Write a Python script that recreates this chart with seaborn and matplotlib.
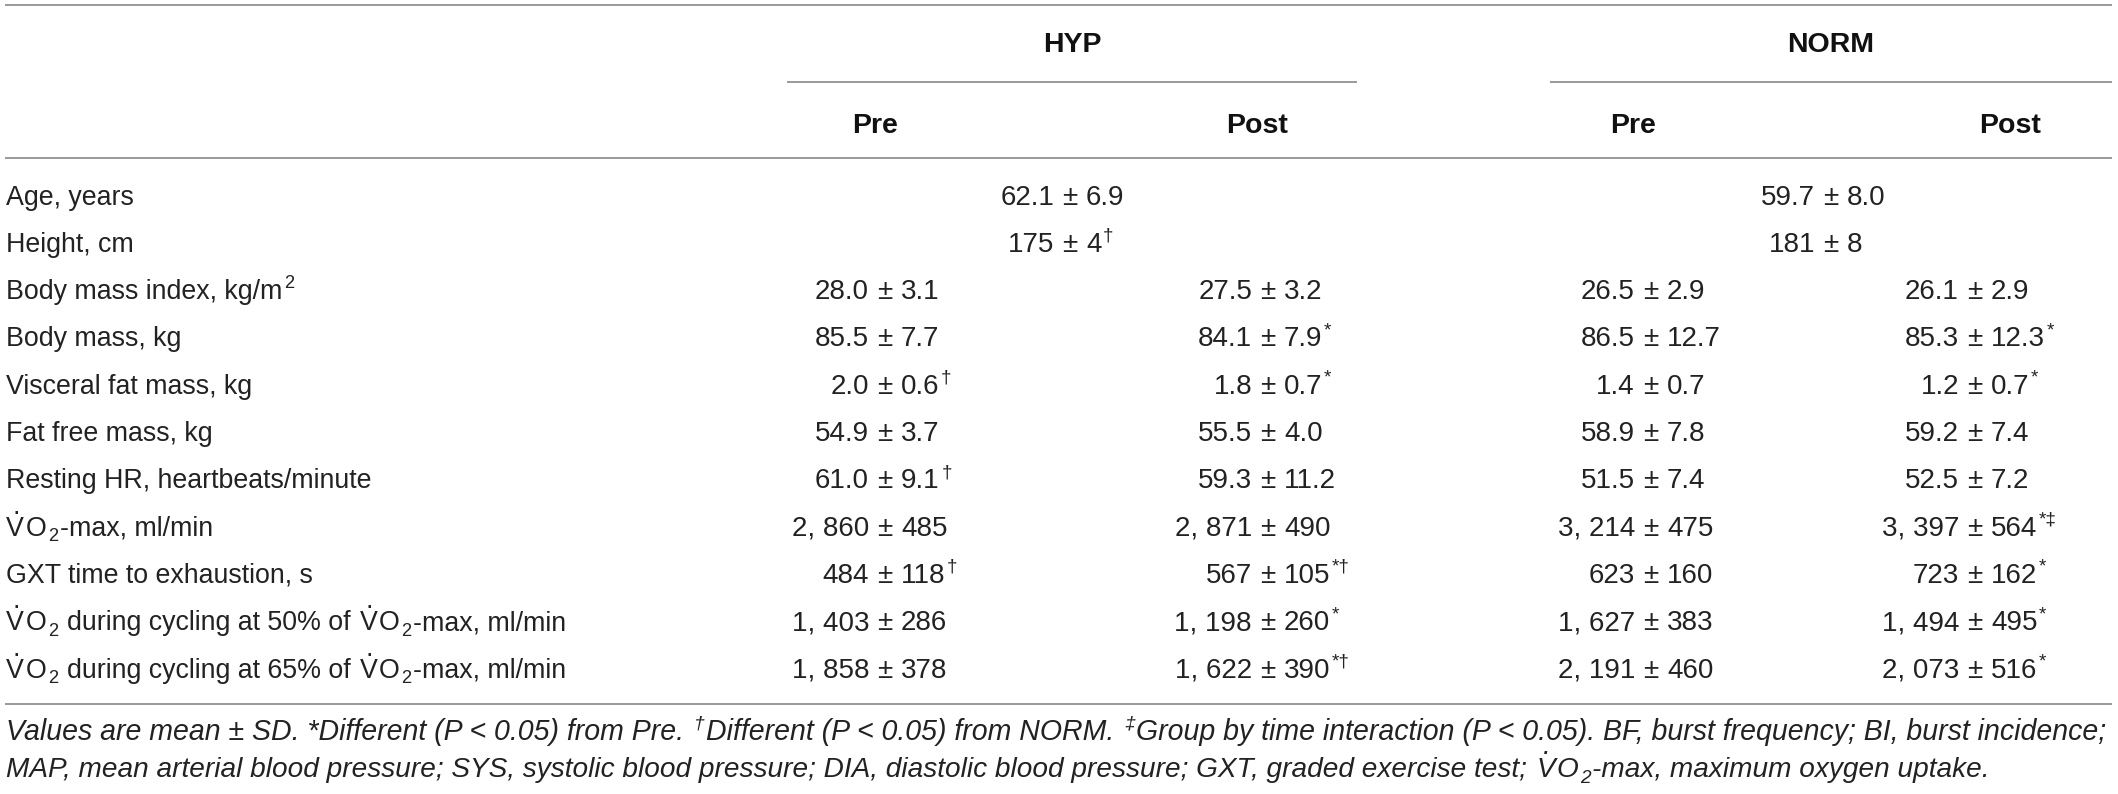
import matplotlib
matplotlib.use("Agg")
import matplotlib.pyplot as plt
import seaborn as sns

# ---------------- data ----------------
groups = ["HYP", "NORM"]
times = ["Pre", "Post"]

row_labels = [
    "Age, years",
    "Height, cm",
    "Body mass index, kg/m^{2}",
    "Body mass, kg",
    "Visceral fat mass, kg",
    "Fat free mass, kg",
    "Resting HR, heartbeats/minute",
    "V\u0307O_{2}-max, ml/min",
    "GXT time to exhaustion, s",
    "V\u0307O_{2} during cycling at 50% of V\u0307O_{2}-max, ml/min",
    "V\u0307O_{2} during cycling at 65% of V\u0307O_{2}-max, ml/min",
]

# values spanning Pre and Post (rows measured once)
hyp_span = ["62.1 ± 6.9", "175 ± 4^{†}"]
norm_span = ["59.7 ± 8.0", "181 ± 8"]

hyp_pre = [None, None, "28.0 ± 3.1", "85.5 ± 7.7", "2.0 ± 0.6^{†}", "54.9 ± 3.7",
           "61.0 ± 9.1^{†}", "2, 860 ± 485", "484 ± 118^{†}", "1, 403 ± 286", "1, 858 ± 378"]
hyp_post = [None, None, "27.5 ± 3.2", "84.1 ± 7.9^{*}", "1.8 ± 0.7^{*}", "55.5 ± 4.0",
            "59.3 ± 11.2", "2, 871 ± 490", "567 ± 105^{*†}", "1, 198 ± 260^{*}", "1, 622 ± 390^{*†}"]
norm_pre = [None, None, "26.5 ± 2.9", "86.5 ± 12.7", "1.4 ± 0.7", "58.9 ± 7.8",
            "51.5 ± 7.4", "3, 214 ± 475", "623 ± 160", "1, 627 ± 383", "2, 191 ± 460"]
norm_post = [None, None, "26.1 ± 2.9", "85.3 ± 12.3^{*}", "1.2 ± 0.7^{*}", "59.2 ± 7.4",
             "52.5 ± 7.2", "3, 397 ± 564^{*‡}", "723 ± 162^{*}", "1, 494 ± 495^{*}", "2, 073 ± 516^{*}"]

footnotes = [
    "Values are mean ± SD. *Different (P < 0.05) from Pre. ^{†}Different (P < 0.05) from NORM. "
    "^{‡}Group by time interaction (P < 0.05). BF, burst frequency; BI, burst incidence;",
    "MAP, mean arterial blood pressure; SYS, systolic blood pressure; DIA, diastolic blood pressure; "
    "GXT, graded exercise test; V\u0307O_{2}-max, maximum oxygen uptake.",
]

# ---------------- layout ----------------
W, H = 2118, 794
sns.set_theme(style="white")
plt.rcParams["font.family"] = ["Liberation Sans", "DejaVu Sans"]

fig = plt.figure(figsize=(W / 100, H / 100), dpi=100)
ax = fig.add_axes([0, 0, 1, 1])
ax.set_xlim(0, W)
ax.set_ylim(H, 0)
ax.axis("off")
sns.despine(ax=ax, left=True, bottom=True)
R = fig.canvas.get_renderer()

TXT = "#222222"
LINE = "#7d7d7d"
FS = 19.3          # label font size (pt)
FS_VAL = 20.0      # value font size (pt)
FS_HEAD = 20.5
PX = 100 / 72.0


def parse(s):
    parts, buf, i = [], "", 0
    while i < len(s):
        if s.startswith("^{", i) or s.startswith("_{", i):
            if buf:
                parts.append((buf, "n"))
                buf = ""
            j = s.index("}", i)
            parts.append((s[i + 2:j], "sup" if s[i] == "^" else "sub"))
            i = j + 1
        elif s[i] == "V" and i + 1 < len(s) and s[i + 1] == "\u0307":
            if buf:
                parts.append((buf, "n"))
                buf = ""
            parts.append(("V", "vdot"))
            i += 2
        else:
            buf += s[i]
            i += 1
    if buf:
        parts.append((buf, "n"))
    return parts


def width_of(txt, fs, **kw):
    t = ax.text(0, 0, txt, fontsize=fs, **kw)
    w = t.get_window_extent(R).width
    t.remove()
    return w


def space_w(fs, **kw):
    return width_of("a a", fs, **kw) - width_of("aa", fs, **kw)


def draw_runs(x, y, s, fs, ha="left", color=TXT, **kw):
    px = fs * PX
    objs, cur = [], x
    parts = parse(s)
    for k, (txt, kind) in enumerate(parts):
        f = fs * 0.68 if kind in ("sup", "sub") else fs
        lead = len(txt) - len(txt.lstrip(" "))
        trail = len(txt) - len(txt.rstrip(" "))
        core = txt.strip(" ")
        sw = space_w(f, **kw) if (lead or trail) else 0
        cur += lead * sw
        dy = -0.40 * px if kind == "sup" else (0.20 * px if kind == "sub" else 0)
        if core:
            t = ax.text(cur, y + dy, core, fontsize=f, ha="left", va="baseline",
                        color=color, **kw)
            w = t.get_window_extent(R).width
            objs.append(t)
            if kind == "vdot":
                d = ax.text(cur + w / 2 + 1, y - 0.72 * px - 0.10 * px, ".", fontsize=fs,
                            ha="center", va="baseline", color=color, **kw)
                objs.append(d)
            cur += w
        cur += trail * sw
        if k < len(parts) - 1:
            cur += 0.06 * px
    total = cur - x
    shift = {"left": 0, "right": total, "center": total / 2}[ha]
    if shift:
        for o in objs:
            o.set_x(o.get_position()[0] - shift)
    return objs, total


def draw_value(xpm, y, s, fs=FS_VAL):
    left, right = s.split(" ± ")
    ax.text(xpm - 16, y, left, fontsize=fs, ha="right", va="baseline", color=TXT)
    ax.text(xpm, y, "±", fontsize=fs, ha="center", va="baseline", color=TXT)
    draw_runs(xpm + 16, y, right, fs)


def draw_fitted(x, y, s, target, **kw):
    objs, tot = draw_runs(x, y, s, 18, **kw)
    for o in objs:
        o.remove()
    draw_runs(x, y, s, 18 * target / tot, **kw)


# rules
x0, x1 = 5, 2112
ax.hlines([5, 158, 704], x0, x1, color=LINE, lw=1.1)
ax.hlines(82, 787, 1357, color=LINE, lw=1.1)
ax.hlines(82, 1550, x1, color=LINE, lw=1.1)

# headers
group_x = [1072, 1831]
time_x = [[875, 1257], [1633, 2010]]
for g, gx, tx in zip(groups, group_x, time_x):
    ax.text(gx, 52, g, fontsize=FS_HEAD, fontweight="bold", ha="center", va="baseline", color="#111111")
    for t, x in zip(times, tx):
        ax.text(x, 133, t, fontsize=FS_HEAD, fontweight="bold", ha="center", va="baseline", color="#111111")

# body
pm_x = [885, 1268, 1651, 1975]
span_x = [1070, 1831]
row0, dr = 195, 47.3
for i, lab in enumerate(row_labels):
    yb = row0 + dr * i + 9.6
    draw_runs(6, yb, lab, FS)
    if i < len(hyp_span):
        draw_value(span_x[0], yb, hyp_span[i])
        draw_value(span_x[1], yb, norm_span[i])
    for col, xpm in zip([hyp_pre, hyp_post, norm_pre, norm_post], pm_x):
        if col[i] is not None:
            draw_value(xpm, yb, col[i])

# footnotes
draw_fitted(6, 740, footnotes[0], 2104, style="italic")
draw_fitted(6, 777, footnotes[1], 1980, style="italic")

fig.savefig("out.png", dpi=100, facecolor="white")
